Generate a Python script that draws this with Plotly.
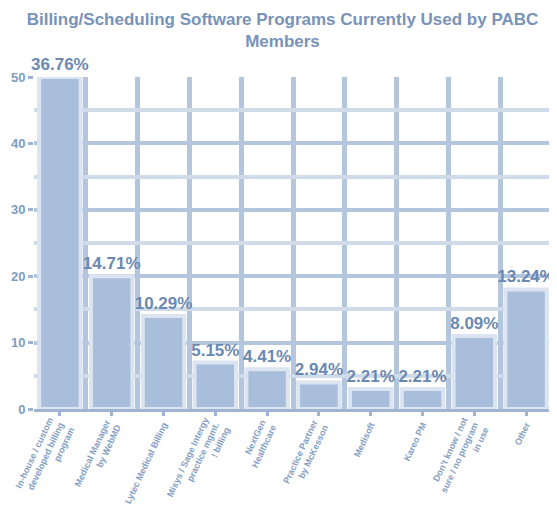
import plotly.graph_objects as go

categories = [
    "In-house / custom<br>developed billing<br>program",
    "Medical Manager<br>by WebMD",
    "Lytec Medical Billing",
    "Misys / Sage Intergy<br>practice mgmt.<br>! billing",
    "NextGen<br>Healthcare",
    "Practice Partner<br>by McKesson",
    "Medisoft",
    "Kareo PM",
    "Don't know / not<br>sure / no program<br>in use",
    "Other",
]
counts = [50, 20, 14, 7, 6, 4, 3, 3, 11, 18]
pct_labels = ["36.76%", "14.71%", "10.29%", "5.15%", "4.41%", "2.94%", "2.21%", "2.21%", "8.09%", "13.24%"]
y_ticks = [0, 10, 20, 30, 40, 50]

xpos = list(range(len(categories)))

grid_major = "#b4c6dd"
grid_minor = "#d0dbe9"
bar_color = "#a9bedb"
text_color = "#6a89b2"
font_family = "Liberation Sans, Arial"

# the page body has an 8px margin, so the figure is sized to fit the window
W, H = 549, 502

fig = go.Figure()
fig.add_trace(go.Bar(
    x=xpos, y=counts,
    text=pct_labels, textposition="outside",
    textfont=dict(family=font_family, size=17, color=text_color),
    texttemplate="<b>%{text}</b>",
    cliponaxis=False, constraintext="none",
    marker=dict(color=bar_color, line=dict(color="#dbe4f0", width=4)),
    width=0.8,
))

fig.update_layout(
    width=W, height=H,
    margin=dict(l=26, r=5, t=69, b=101, autoexpand=False),
    paper_bgcolor="white", plot_bgcolor="white",
    showlegend=False,
    title=dict(
        text="<b>Billing/Scheduling Software Programs Currently Used by PABC<br>Members</b>",
        x=0.5, xanchor="center", xref="container",
        y=1 - 17 / H, yanchor="top", yref="container",
        font=dict(family=font_family, size=17, color="#7893ba"),
    ),
    font=dict(family=font_family, color="#7f9cc0"),
)

fig.update_yaxes(
    range=[0, 50], tickvals=y_ticks, ticktext=[f"<b>{v}</b>" for v in y_ticks],
    showgrid=True, gridcolor=grid_major, gridwidth=4,
    minor=dict(dtick=5, tick0=0, showgrid=True, gridcolor=grid_minor, gridwidth=4),
    ticks="outside", ticklen=5, tickwidth=3, tickcolor="#9fb4d0",
    tickfont=dict(size=13, color="#7f9cc0"),
    zeroline=False, showline=False, automargin=False,
)

fig.update_xaxes(
    range=[-0.5, 9.5], tickvals=xpos,
    ticktext=[f"<b>{c}</b>" for c in categories], tickangle=-65,
    tickfont=dict(size=9, color="#85a0c4"),
    showgrid=False,
    minor=dict(tickvals=[i - 0.5 for i in range(len(categories) + 1)], showgrid=True,
               gridcolor=grid_major, gridwidth=5, ticks=""),
    ticks="outside", ticklen=4, tickwidth=3, tickcolor="#9fb4d0",
    showline=True, linecolor="#9fb4d0", linewidth=3,
    zeroline=False, automargin=False,
)

fig.write_html("out.html")
